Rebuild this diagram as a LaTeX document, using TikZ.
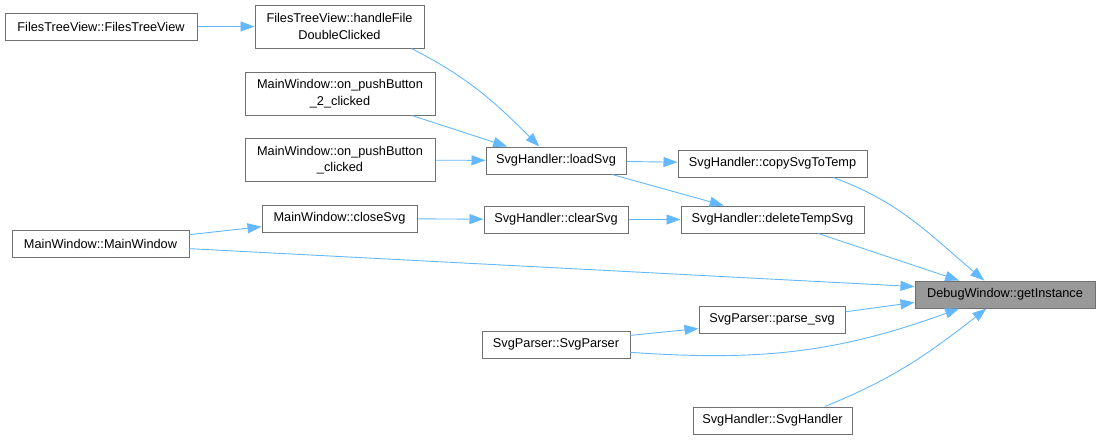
\documentclass[tikz,border=0pt]{standalone}
\usepackage{fontspec}
\setmainfont{Liberation Sans}
\usepackage{tikz}
\usetikzlibrary{arrows.meta}
\definecolor{edgeblue}{HTML}{63B8FF}
\definecolor{boxline}{HTML}{707070}
\definecolor{curfill}{HTML}{999999}
\tikzset{func/.style={rectangle, draw=boxline, line width=1pt, fill=white, inner sep=0pt, minimum height=27pt, align=center, font=\fontsize{12.75}{16.5}\selectfont},
  cur/.style={func, fill=curfill},
  calledge/.style={draw=edgeblue, line width=0.9pt, -{Triangle[length=14pt,width=10pt]}}}

\begin{document}
\begin{tikzpicture}[x=1pt,y=-1pt,every edge/.style={calledge}]
  \useasboundingbox (0,0) rectangle (1100,440);
  \node[func, minimum width=192pt] (ftv) at (101,26.5) {FilesTreeView::FilesTreeView};
  \node[func, minimum width=169pt, minimum height=43pt] (hfdc) at (339.5,26.5) {FilesTreeView::handleFile\\DoubleClicked};
  \node[func, minimum width=190pt, minimum height=43pt] (pb2) at (340,93.5) {MainWindow::on\_pushButton\\\_2\_clicked};
  \node[func, minimum width=190pt, minimum height=43pt] (pb) at (340,160) {MainWindow::on\_pushButton\\\_clicked};
  \node[func, minimum width=140pt] (load) at (556,160.5) {SvgHandler::loadSvg};
  \node[func, minimum width=189pt] (copy) at (772.5,163.5) {SvgHandler::copySvgToTemp};
  \node[func, minimum width=155pt] (close) at (339.5,218.5) {MainWindow::closeSvg};
  \node[func, minimum width=144pt] (clear) at (556,219.5) {SvgHandler::clearSvg};
  \node[func, minimum width=183pt] (del) at (772.5,219.5) {SvgHandler::deleteTempSvg};
  \node[func, minimum width=177pt] (mw) at (100.5,244) {MainWindow::MainWindow};
  \node[cur, minimum width=180pt] (inst) at (1005,294.5) {DebugWindow::getInstance};
  \node[func, minimum width=146pt] (parse) at (772,319.5) {SvgParser::parse\_svg};
  \node[func, minimum width=148pt] (spar) at (556,344.5) {SvgParser::SvgParser};
  \node[func, minimum width=159pt] (shnd) at (772.5,420.5) {SvgHandler::SvgHandler};
  \path (ftv) edge (hfdc)
  (hfdc.-17) edge[out=-27, in=135] (load.140)
  (pb2.-17) edge (load.164)
  (pb) edge (load)
  (load) edge (copy)
  (load.-14) edge (del.164)
  (close) edge (clear)
  (clear) edge (del)
  (mw.6) edge (close.186)
  (mw.-3) edge (inst.175)
  (copy.-13) edge[out=-20, in=140] (inst.146)
  (del.-17) edge (inst.163)
  (parse.6) edge (inst.185)
  (spar.7) edge (parse.187)
  (spar.-6) edge[out=-4, in=200] (inst.197)
  (shnd.15) edge[out=22, in=218] (inst.217)
  ;
\end{tikzpicture}
\end{document}
